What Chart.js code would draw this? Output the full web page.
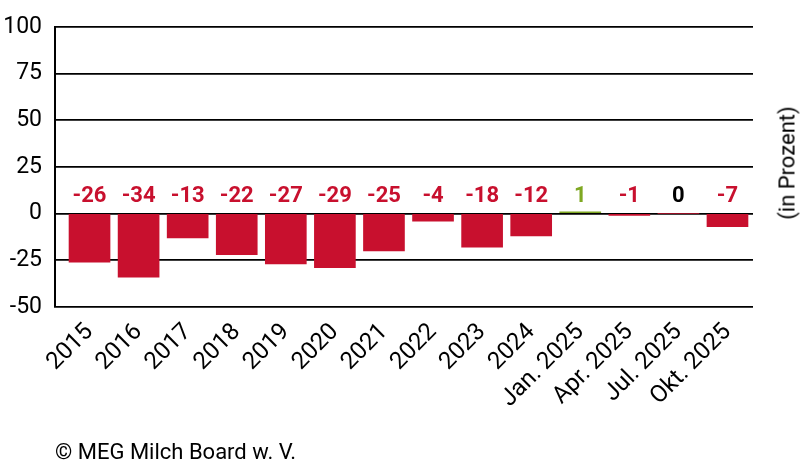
<!DOCTYPE html>
<html>
<head>
<meta charset="utf-8">
<script src="https://cdn.jsdelivr.net/npm/chart.js@4"></script>
<style>
  html, body { margin: 0; padding: 0; background: #fff; }
  #wrap { position: relative; width: 800px; height: 475px; }
  #c { position: absolute; left: 0; top: 0; }
  #unit { position: absolute; left: 787px; top: 163px; transform: translate(-50%, -50%) rotate(-90deg);
          font: 22px Roboto, sans-serif; color: #000; white-space: nowrap; }
  #src { position: absolute; left: 55px; top: 439px; font: 22px Roboto, sans-serif; color: #000; white-space: nowrap; }
</style>
</head>
<body>
<div id="wrap">
  <canvas id="c" width="800" height="475"></canvas>
  <div id="unit">(in Prozent)</div>
  <div id="src">© MEG Milch Board w. V.</div>
</div>
<script>
const categories = ['2015','2016','2017','2018','2019','2020','2021','2022','2023','2024','Jan. 2025','Apr. 2025','Jul. 2025','Okt. 2025'];
// bar heights as drawn in the reference
const barValues = [-26, -34, -13, -22, -27, -29, -20, -4, -18, -12, 1, -1, 0, -7];
// numbers printed above the bars
const labelValues = [-26, -34, -13, -22, -27, -29, -25, -4, -18, -12, 1, -1, 0, -7];
const yTicks = [-50, -25, 0, 25, 50, 75, 100];

const RED = '#c8102e';
const GREEN = '#7fa822';
const FONT = 'Roboto, sans-serif';

const colorFor = v => v > 0 ? GREEN : (v < 0 ? RED : '#000');

const valueLabels = {
  id: 'valueLabels',
  afterDatasetsDraw(chart) {
    const ctx = chart.ctx;
    const meta = chart.getDatasetMeta(0);
    const y0 = chart.scales.y.getPixelForValue(0);
    ctx.save();
    ctx.font = 'bold 22px ' + FONT;
    ctx.textAlign = 'center';
    ctx.textBaseline = 'middle';
    meta.data.forEach((bar, i) => {
      const v = labelValues[i];
      ctx.fillStyle = colorFor(v);
      ctx.fillText(String(v), bar.x, y0 - 17);
    });
    ctx.restore();
  }
};

new Chart(document.getElementById('c'), {
  type: 'bar',
  data: {
    datasets: [{
      data: barValues.map((v, i) => ({ x: i, y: v })),
      backgroundColor: barValues.map(v => v > 0 ? GREEN : RED),
      borderWidth: 0,
      barThickness: 41
    }]
  },
  options: {
    responsive: false,
    animation: false,
    devicePixelRatio: 1,
    layout: { padding: { top: 24, right: 47, bottom: 0, left: 0 } },
    plugins: { legend: { display: false }, tooltip: { enabled: false } },
    scales: {
      x: {
        type: 'linear',
        offset: false,
        min: -0.7035,
        max: 13.52,
        afterBuildTicks(s) { s.ticks = categories.map((c, i) => ({ value: i })); },
        afterFit(s) { s.height = 168; },
        grid: { display: false, offset: false },
        border: { display: false },
        ticks: {
          autoSkip: false,
          minRotation: 45,
          maxRotation: 45,
          padding: 3,
          color: '#000',
          font: { family: FONT, size: 24 },
          callback: v => categories[v]
        }
      },
      y: {
        min: -50,
        max: 100,
        afterBuildTicks(s) { s.ticks = yTicks.map(v => ({ value: v })); },
        afterFit(s) { s.width = 55; },
        grid: { color: '#000', lineWidth: 1.7, drawTicks: false },
        border: { display: true, color: '#000', width: 2 },
        ticks: {
          padding: 13,
          color: '#000',
          font: { family: FONT, size: 23 }
        }
      }
    }
  },
  plugins: [valueLabels]
});
</script>
</body>
</html>
